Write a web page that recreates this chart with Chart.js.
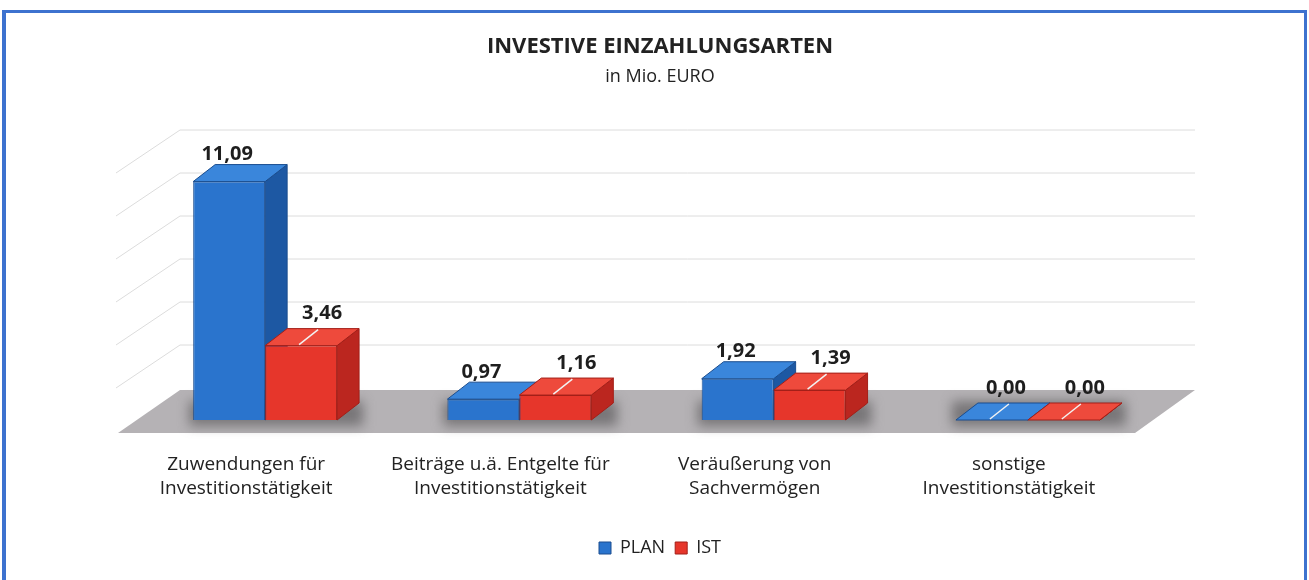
<!DOCTYPE html>
<html lang="de">
<head>
<meta charset="utf-8">
<title>Investive Einzahlungsarten</title>
<script src="https://cdn.jsdelivr.net/npm/chart.js@4.4.1/dist/chart.umd.min.js"></script>
<style>
    html, body { margin: 0; padding: 0; background: #fff; }
    .rahmen {
        position: absolute;
        left: 2px; top: 10px;
        width: 1305px; height: 580px;
        border-left: 4px solid #3d72cf;
        border-top: 3px solid #3d72cf;
        border-right: 3px solid #3d72cf;
        box-sizing: border-box;
        pointer-events: none;
    }
    #box { position: relative; width: 1309px; height: 580px; }
</style>
</head>
<body>
<div id="box">
    <canvas id="einzahlungen" width="1309" height="580"></canvas>
    <div class="rahmen"></div>
</div>
<script>
const kategorien = [
    ['Zuwendungen für', 'Investitionstätigkeit'],
    ['Beiträge u.ä. Entgelte für', 'Investitionstätigkeit'],
    ['Veräußerung von', 'Sachvermögen'],
    ['sonstige', 'Investitionstätigkeit']
];
const planWerte = [11.09, 0.97, 1.92, 0.00];
const istWerte = [3.46, 1.16, 1.39, 0.00];
const gitterWerte = [0, 2, 4, 6, 8, 10, 12];

const tiefeX = 22, tiefeY = -17;       // Tiefe der Säulen
const bodenVorne = { dx: -20, dy: 13 };
const bodenHinten = { dx: 42, dy: -30 };

const farben = {
    plan: { front: '#2a74cd', top: '#3a86db', side: '#1d58a3', rand: '#1a4d8f' },
    ist: { front: '#e6362b', top: '#ee4a3c', side: '#bb261f', rand: '#a31f18' }
};

function fmt(v) {
    return v.toFixed(2).replace('.', ',');
}

function flaeche(ctx, punkte, fuell, rand) {
    ctx.beginPath();
    ctx.moveTo(punkte[0][0], punkte[0][1]);
    for (let i = 1; i < punkte.length; i++) ctx.lineTo(punkte[i][0], punkte[i][1]);
    ctx.closePath();
    ctx.fillStyle = fuell;
    ctx.fill();
    if (rand) {
        ctx.strokeStyle = rand;
        ctx.lineWidth = 1;
        ctx.stroke();
    }
}

const saeulen3d = {
    id: 'saeulen3d',
    beforeDatasetsDraw(chart) {
        const ctx = chart.ctx;
        const area = chart.chartArea;
        const y = chart.scales.y;
        const basis = y.getPixelForValue(0);
        ctx.save();

        // Gitter an der Rückwand und Seitenwand
        ctx.strokeStyle = '#dcdcdc';
        ctx.lineWidth = 1;
        gitterWerte.slice(1).forEach(v => {
            const gy = y.getPixelForValue(v) + bodenHinten.dy - 2;
            ctx.beginPath();
            ctx.moveTo(area.left + bodenVorne.dx - 2, gy + bodenVorne.dy - bodenHinten.dy);
            ctx.lineTo(area.left + bodenHinten.dx, gy);
            ctx.lineTo(area.right + bodenHinten.dx - 2, gy);
            ctx.stroke();
        });

        // Boden
        flaeche(ctx, [
            [area.left + bodenVorne.dx, basis + bodenVorne.dy],
            [area.right + bodenVorne.dx, basis + bodenVorne.dy],
            [area.right + bodenHinten.dx - 2, basis + bodenHinten.dy],
            [area.left + bodenHinten.dx, basis + bodenHinten.dy]
        ], '#b5b2b5');

        // Schatten unter den Säulen
        ctx.filter = 'blur(6px)';
        chart.getDatasetMeta(0).data.forEach((bar, i) => {
            const ist = chart.getDatasetMeta(1).data[i];
            const x0 = bar.x - bar.width / 2 - 4;
            const x1 = ist.x + ist.width / 2 + tiefeX + 4;
            ctx.fillStyle = 'rgba(80,78,80,0.6)';
            ctx.fillRect(x0, basis + tiefeY - 2, x1 - x0, -tiefeY + 8);
        });
        ctx.filter = 'none';

        // Deckel und Seiten (Vorderseiten zeichnet Chart.js danach)
        const metaPlan = chart.getDatasetMeta(0).data;
        const metaIst = chart.getDatasetMeta(1).data;
        metaPlan.forEach((bar, i) => {
            [[bar, farben.plan], [metaIst[i], farben.ist]].forEach(([b, f]) => {
                const x0 = b.x - b.width / 2, x1 = b.x + b.width / 2;
                flaeche(ctx, [[x1, b.y], [x1, b.base], [x1 + tiefeX, b.base + tiefeY], [x1 + tiefeX, b.y + tiefeY]], f.side, f.rand);
                flaeche(ctx, [[x0, b.y], [x1, b.y], [x1 + tiefeX, b.y + tiefeY], [x0 + tiefeX, b.y + tiefeY]], f.top, f.rand);
            });
        });
        ctx.restore();
    },
    afterDatasetsDraw(chart) {
        const ctx = chart.ctx;
        ctx.save();
        ctx.font = 'bold 20px "Open Sans"';
        ctx.fillStyle = '#1e1e1e';
        ctx.textAlign = 'center';
        ctx.textBaseline = 'middle';
        chart.data.datasets.forEach((ds, d) => {
            chart.getDatasetMeta(d).data.forEach((b, i) => {
                const wert = ds.data[i];
                const versatz = d === 0 ? (wert === 0 ? 14 : -2) : 21;
                const mitLinie = d === 1 || wert === 0;
                // Führungslinie
                if (mitLinie) {
                    ctx.strokeStyle = '#f2f2f2';
                    ctx.lineWidth = 1.5;
                    ctx.beginPath();
                    ctx.moveTo(b.x - 2, b.y - 1);
                    ctx.lineTo(b.x + 17, b.y + tiefeY + 1);
                    ctx.stroke();
                }
                ctx.fillText(fmt(wert), b.x + versatz, b.y + tiefeY - (mitLinie ? 15 : 10));
            });
        });
        ctx.restore();
    }
};

const ctx = document.getElementById('einzahlungen').getContext('2d');

const grafik = new Chart(ctx, {
    type: 'bar',
    data: {
        labels: kategorien,
        datasets: [{
                label: 'PLAN',
                data: planWerte,
                backgroundColor: farben.plan.front,
                borderColor: farben.plan.rand,
                borderWidth: 1,
                categoryPercentage: 0.566,
                barPercentage: 1
            },
            {
                label: 'IST',
                data: istWerte,
                backgroundColor: farben.ist.front,
                borderColor: farben.ist.rand,
                borderWidth: 1,
                categoryPercentage: 0.566,
                barPercentage: 1
            }
        ]
    },
    options: {
        responsive: false,
        animation: false,
        layout: {
            padding: { left: 20, right: 9, top: 20, bottom: 13 }
        },
        scales: {
            y: {
                min: 0,
                max: 12,
                grid: { display: false },
                border: { display: false },
                ticks: { display: false },
                afterFit: function (scale) {
                    scale.width = 118;
                }
            },
            rechts: {
                type: 'linear',
                position: 'right',
                grid: { display: false },
                border: { display: false },
                ticks: { display: false },
                afterFit: function (scale) {
                    scale.width = 145;
                }
            },
            x: {
                grid: { display: false, drawTicks: false },
                border: { display: false },
                ticks: {
                    color: '#222',
                    padding: 33,
                    labelOffset: -19,
                    maxRotation: 0,
                    font: { size: 19, family: 'Open Sans', lineHeight: 1.26 }
                },
                afterFit: function (scale) {
                    scale.height = 109;
                }
            }
        },
        plugins: {
            title: {
                display: true,
                text: 'INVESTIVE EINZAHLUNGSARTEN',
                color: '#222',
                font: { size: 22, weight: 'bold', family: 'Open Sans', lineHeight: 1.2 },
                padding: { top: 14, bottom: 0 }
            },
            subtitle: {
                display: true,
                text: 'in Mio. EURO',
                color: '#222',
                font: { size: 18, family: 'Open Sans', lineHeight: 1.2 },
                padding: { top: 6, bottom: 74 }
            },
            legend: {
                position: 'bottom',
                labels: {
                    color: '#222',
                    boxWidth: 12,
                    boxHeight: 12,
                    padding: 10,
                    font: { size: 18, family: 'Open Sans' }
                }
            },
            tooltip: { enabled: false }
        }
    },
    plugins: [saeulen3d]
});
</script>
</body>
</html>
